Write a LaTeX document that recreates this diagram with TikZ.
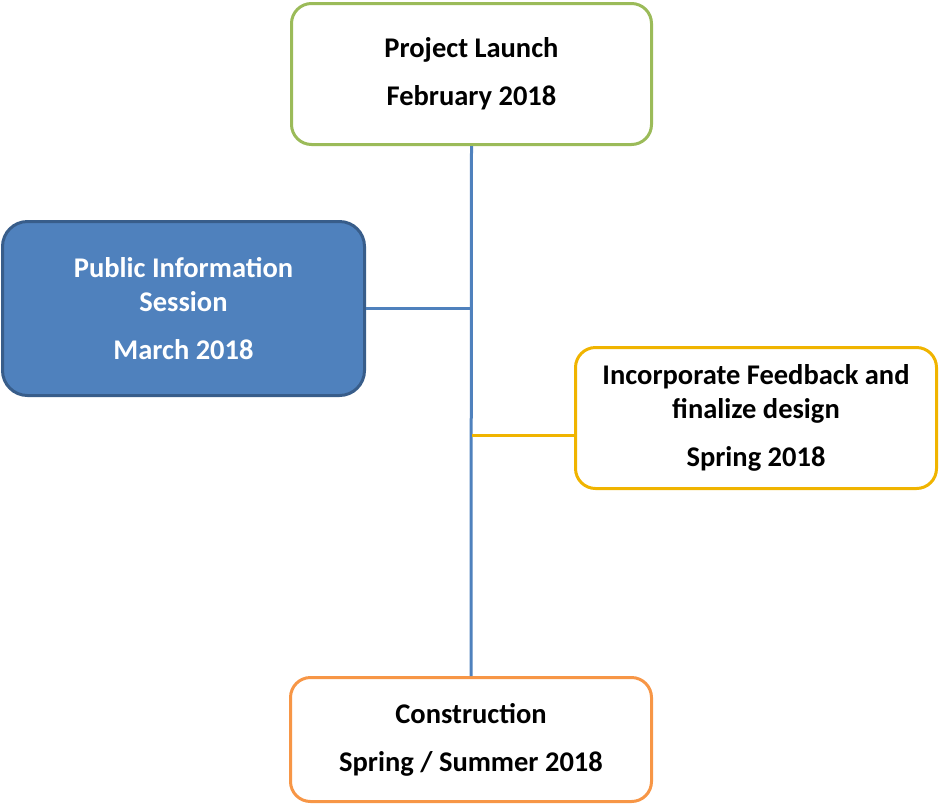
\documentclass[tikz,border=0pt]{standalone}
\usepackage{fontspec}
\setmainfont{Carlito}
\definecolor{cgreen}{HTML}{9BBB59}
\definecolor{cblue}{HTML}{4F81BD}
\definecolor{cbluedark}{HTML}{385D8A}
\definecolor{cgold}{HTML}{F0B400}
\definecolor{corange}{HTML}{F79646}
\tikzset{
  box/.style={draw, line width=3pt, rounded corners=20pt, fill=white, align=center,
    font=\fontsize{28.5}{34}\selectfont\bfseries, inner sep=0pt},
  conn/.style={line width=3pt}
}
\begin{document}
\begin{tikzpicture}[x=1pt,y=1pt]
\useasboundingbox (0,0) rectangle (939,-804);
\node[box, draw=cgreen, minimum width=360pt, minimum height=141pt] (launch) at (471.5,-74) {Project Launch\\[14pt]February 2018};
\node[box, draw=cbluedark, fill=cblue, text=white, rounded corners=25pt, minimum width=362pt, minimum height=174pt] (public) at (183.5,-308.5) {Public Information\\Session\\[14pt]March 2018};
\node[box, draw=cgold, minimum width=361pt, minimum height=141pt] (feedback) at (756,-418) {Incorporate Feedback and\\finalize design\\[14pt]Spring 2018};
\node[box, draw=corange, minimum width=361pt, minimum height=124pt] (constr) at (471,-739.5) {Construction\\[14pt]Spring / Summer 2018};
\draw[conn, cblue] (launch.south) -- (constr.north);
\draw[conn, cblue] (public.east) -- (public.east -| launch.south);
\draw[conn, cgold] ([yshift=-17pt]feedback.west) -- ([yshift=-17pt]feedback.west -| launch.south);
\end{tikzpicture}
\end{document}
